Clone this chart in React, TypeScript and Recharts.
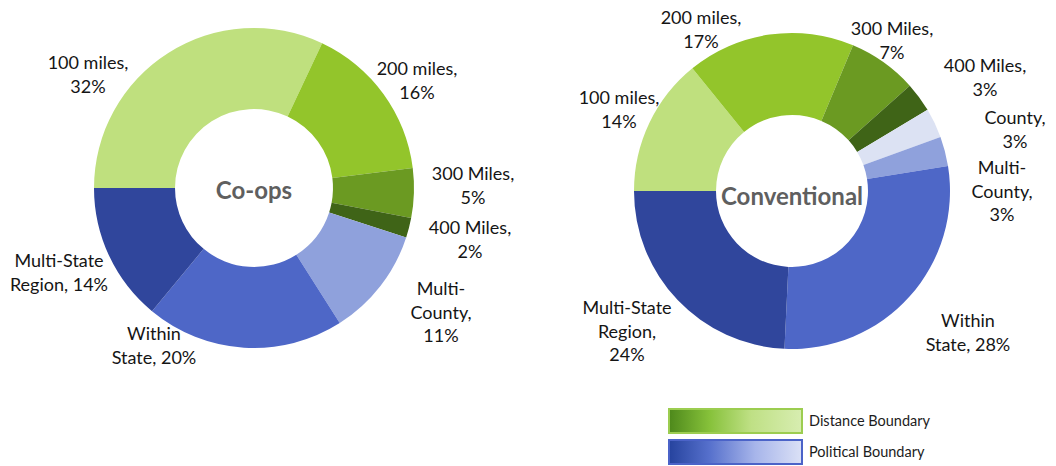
import React from 'react';
import { PieChart, Pie, Cell, Legend } from 'recharts';

// Co-ops ring (clockwise from 9 o'clock)
const coopCategories = ['100 miles', '200 miles', '300 Miles', '400 Miles', 'Multi-County', 'Within State', 'Multi-State Region'];
const coopValues = [32, 16, 5, 2, 11, 20, 14];
const coopLabelLines = [
    ['100 miles,', '32%'],
    ['200 miles,', '16%'],
    ['300 Miles,', '5%'],
    ['400 Miles,', '2%'],
    ['Multi-', 'County,', '11%'],
    ['Within', 'State, 20%'],
    ['Multi-State', 'Region, 14%'],
];

// Conventional ring
const convCategories = ['100 miles', '200 miles', '300 Miles', '400 Miles', 'County', 'Multi-County', 'Within State', 'Multi-State Region'];
const convValues = [14, 17, 7, 3, 3, 3, 28, 24];
const convLabelLines = [
    ['100 miles,', '14%'],
    ['200 miles,', '17%'],
    ['300 Miles,', '7%'],
    ['400 Miles,', '3%'],
    ['County,', '3%'],
    ['Multi-', 'County,', '3%'],
    ['Within', 'State, 28%'],
    ['Multi-State', 'Region,', '24%'],
];

const legendItems = ['Distance Boundary', 'Political Boundary'];

const colors: Record<string, string> = {
    '100 miles': '#bfe07e',
    '200 miles': '#93c52b',
    '300 Miles': '#6b9a22',
    '400 Miles': '#3f6417',
    'County': '#dce2f3',
    'Multi-County': '#8fa1dc',
    'Within State': '#4e67c7',
    'Multi-State Region': '#30469c',
};

// label offsets from the ring centre (first line)
const coopLabelPos = [[-166, -126], [163, -120], [219, -15], [216, 39], [187, 100], [-100, 145], [-195, 72]];
const convLabelPos = [[-173, -94], [-91, -174], [100, -163], [193, -126], [223, -74], [210, -24], [176, 129], [-165, 116]];

const FONT = 'Lato, "Open Sans", sans-serif';
const LINE_H = 23.5;

const coopData = coopCategories.map((name, i) => ({ name, value: coopValues[i] }));
const convData = convCategories.map((name, i) => ({ name, value: convValues[i] }));

const makeLabel = (lines: string[][], pos: number[][], title: string, titleDy: number) => (props: any) => {
    const { cx, cy, index } = props;
    const x = cx + pos[index][0];
    const y = cy + pos[index][1];
    return (
        <g>
            <text x={x} y={y} textAnchor="middle" dominantBaseline="central" fill="#151515" fontSize={18} fontFamily={FONT}>
                {lines[index].map((l, i) => (
                    <tspan key={i} x={x} dy={i === 0 ? 0 : LINE_H}>{l}</tspan>
                ))}
            </text>
            {index === 0 && (
                <text x={cx} y={cy + titleDy} textAnchor="middle" dominantBaseline="central" fill="#5f5f5f" fontSize={24} fontWeight={700} fontFamily={FONT}>
                    {title}
                </text>
            )}
        </g>
    );
};

const renderLegend = () => (
    <div style={{ fontFamily: FONT, fontSize: 14.5, color: '#1c1c1c' }}>
        {legendItems.map((item, i) => (
            <div key={item} style={{ display: 'flex', alignItems: 'center', height: 31 }}>
                <div
                    style={{
                        width: 131,
                        height: 22,
                        boxSizing: 'content-box',
                        border: `2px solid ${i === 0 ? '#9ccd50' : '#4b63c8'}`,
                        background: i === 0
                            ? 'linear-gradient(90deg, #4f8a1c 0%, #86c13a 30%, #bfe085 62%, #d7edb0 100%)'
                            : 'linear-gradient(90deg, #27449f 0%, #5670cc 30%, #a7b5ea 65%, #dae0f6 100%)',
                    }}
                />
                <span style={{ marginLeft: 6 }}>{item}</span>
            </div>
        ))}
    </div>
);

export default function App() {
    return (
        <div style={{ position: 'absolute', left: 0, top: 0, width: 1056, height: 466, background: '#fff' }}>
            <PieChart width={1056} height={466} margin={{ top: 0, right: 0, bottom: 0, left: 0 }}>
                <Pie
                    data={coopData}
                    dataKey="value"
                    nameKey="name"
                    cx={254}
                    cy={188}
                    innerRadius={79}
                    outerRadius={160}
                    startAngle={180}
                    endAngle={-180}
                    stroke="none"
                    label={makeLabel(coopLabelLines, coopLabelPos, 'Co-ops', 1)}
                    labelLine={false}
                    isAnimationActive={false}
                >
                    {coopData.map((d) => (
                        <Cell key={d.name} fill={colors[d.name]} />
                    ))}
                </Pie>
                <Pie
                    data={convData}
                    dataKey="value"
                    nameKey="name"
                    cx={792}
                    cy={191}
                    innerRadius={76}
                    outerRadius={158}
                    startAngle={180}
                    endAngle={-180}
                    stroke="none"
                    label={makeLabel(convLabelLines, convLabelPos, 'Conventional', 4)}
                    labelLine={false}
                    isAnimationActive={false}
                >
                    {convData.map((d) => (
                        <Cell key={d.name} fill={colors[d.name]} />
                    ))}
                </Pie>
                <Legend
                    content={renderLegend}
                    wrapperStyle={{ position: 'absolute', left: 668, top: 405, bottom: 'auto', width: 300, height: 62 }}
                />
            </PieChart>
        </div>
    );
}
